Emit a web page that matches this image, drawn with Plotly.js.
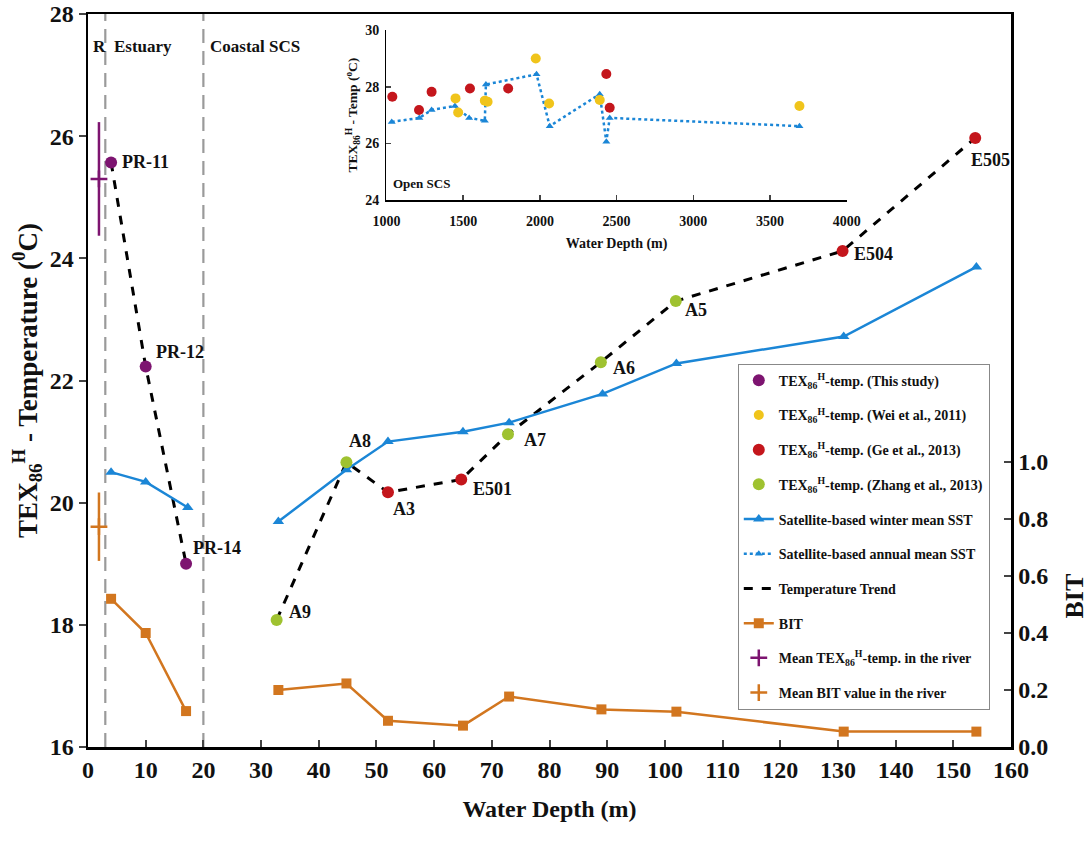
<!DOCTYPE html>
<html><head><meta charset="utf-8">
<script src="https://cdn.plot.ly/plotly-3.0.1.min.js"></script>
<style>html,body{margin:0;padding:0;background:#fff}#chart{width:1091px;height:844px}</style>
</head><body><div id="chart"></div>
<script>
// ---------- data ----------
var thisDepth = [4, 10, 17];
var thisTemp = [25.57, 22.23, 19.0];
var thisLabels = ['PR-11', 'PR-12', 'PR-14'];

var zhangDepth = [32.7, 44.8, 72.8, 88.9, 101.9];
var zhangTemp = [18.08, 20.66, 21.12, 22.3, 23.3];
var zhangLabels = ['A9', 'A8', 'A7', 'A6', 'A5'];

var geDepth = [52, 64.7, 130.8, 153.8];
var geTemp = [20.17, 20.38, 24.12, 25.97];
var geLabels = ['A3', 'E501', 'E504', 'E505'];

var winterDepth = [4, 10, 17.3, null, 33, 44.8, 52, 65, 73, 89.2, 102, 131, 154];
var winterSST = [20.5, 20.34, 19.92, null, 19.69, 20.54, 21.0, 21.16, 21.31, 21.78, 22.28, 22.72, 23.86];

var bitDepth = [4, 10, 17, null, 33, 44.8, 52, 65, 73, 89, 102, 131, 154];
var bitValue = [0.52, 0.40, 0.126, null, 0.20, 0.223, 0.092, 0.075, 0.177, 0.132, 0.124, 0.054, 0.054];

var riverDepth = [1.9];
var riverTemp = [25.3];
var riverTempErr = [0.93];
var riverBIT = [0.773];
var riverBITErr = [0.12];

// inset (open SCS)
var inGeDepth = [1038, 1212, 1294, 1544, 1793, 2433, 2455];
var inGeTemp = [27.65, 27.18, 27.82, 27.94, 27.94, 28.45, 27.26];
var inWeiDepth = [1450, 1467, 1641, 1659, 1973, 2060, 2390, 3692];
var inWeiTemp = [27.59, 27.09, 27.51, 27.47, 29.0, 27.41, 27.53, 27.32];
var annDepth = [1034, 1214, 1294, 1446, 1539, 1641, 1648, 1978, 2064, 2390, 2433, 2455, 3692];
var annSST = [26.76, 26.9, 27.18, 27.32, 26.9, 26.8, 28.08, 28.44, 26.61, 27.74, 26.06, 26.9, 26.61];

var boundaryDepths = [3, 20];
var xTicks = [0,10,20,30,40,50,60,70,80,90,100,110,120,130,140,150,160];
var yTicks = [16,18,20,22,24,26,28];
var bitTicks = [0, 0.2, 0.4, 0.6, 0.8, 1.0];
var bitTickText = ['0.0','0.2','0.4','0.6','0.8','1.0'];
var insetXTicks = [1000,1500,2000,2500,3000,3500,4000];
var insetYTicks = [24,26,28,30];

// ---------- styles ----------
var SERIF = 'Liberation Serif, Times New Roman, serif';
var C = {purple:'#7d1470', yellow:'#f0c41b', red:'#c4161c', green:'#9fc230',
         blue:'#1b86d6', orange:'#d2761f', gray:'#9a9a9a'};
var labelShift = {
  'PR-11':[9,0,'left'], 'PR-12':[8,14,'left'], 'PR-14':[5,16,'left'],
  'A9':[10,8,'left'], 'A8':[14,21,'center'], 'A7':[14,-6,'left'], 'A6':[10,-6,'left'], 'A5':[7,-9,'left'],
  'A3':[16,-17,'center'], 'E501':[10,-10,'left'], 'E504':[9,-3,'left'], 'E505':[-6,-22,'left']
};

// temperature trend: estuary points, gap, then coastal points sorted by depth
var coastal = [];
zhangDepth.forEach(function(d,i){coastal.push([d, zhangTemp[i]]);});
geDepth.forEach(function(d,i){coastal.push([d, geTemp[i]]);});
coastal.sort(function(a,b){return a[0]-b[0];});
var trendX = thisDepth.concat([null], coastal.map(function(p){return p[0];}));
var trendY = thisTemp.concat([null], coastal.map(function(p){return p[1];}));

var texName = 'TEX<sub>86</sub><sup>H</sup>-temp.';
var traces = [
  {x: trendX, y: trendY, mode:'lines', name:'Temperature Trend', legendrank:7,
   line:{color:'#000', width:3, dash:'dash'}, connectgaps:false},
  {x: winterDepth, y: winterSST, mode:'lines+markers', name:'Satellite-based winter mean SST', legendrank:5,
   line:{color:C.blue, width:2.5}, marker:{symbol:'triangle-up', size:10, color:C.blue}},
  {x: bitDepth, y: bitValue, yaxis:'y2', mode:'lines+markers', name:'BIT', legendrank:8,
   line:{color:C.orange, width:2.5}, marker:{symbol:'square', size:10, color:C.orange}},
  {x: thisDepth, y: thisTemp, mode:'markers', name: texName+' (This study)', legendrank:1,
   marker:{size:12, color:C.purple}},
  {x: zhangDepth, y: zhangTemp, mode:'markers', name: texName+' (Zhang et al., 2013)', legendrank:4,
   marker:{size:12, color:C.green}},
  {x: geDepth, y: geTemp, mode:'markers', name: texName+' (Ge et al., 2013)', legendrank:3,
   marker:{size:12, color:C.red}},
  {x: riverDepth, y: riverTemp, mode:'markers', name:'Mean '+texName+' in the river', legendrank:9,
   marker:{symbol:'cross-thin', size:12, color:C.purple, line:{color:C.purple, width:2.5}},
   error_y:{type:'data', array:riverTempErr, visible:true, width:0, thickness:2.5, color:C.purple}},
  {x: riverDepth, y: riverBIT, yaxis:'y2', mode:'markers', name:'Mean BIT value in the river', legendrank:10,
   marker:{symbol:'cross-thin', size:12, color:C.orange, line:{color:C.orange, width:2.5}},
   error_y:{type:'data', array:riverBITErr, visible:true, width:0, thickness:2.5, color:C.orange}},
  // inset
  {x: annDepth, y: annSST, xaxis:'x3', yaxis:'y3', mode:'lines+markers', name:'Satellite-based annual mean SST', legendrank:6,
   line:{color:C.blue, width:2.5, dash:'dot'}, marker:{symbol:'triangle-up', size:7, color:C.blue}},
  {x: inGeDepth, y: inGeTemp, xaxis:'x3', yaxis:'y3', mode:'markers', showlegend:false,
   marker:{size:10, color:C.red}},
  {x: inWeiDepth, y: inWeiTemp, xaxis:'x3', yaxis:'y3', mode:'markers', name: texName+' (Wei et al., 2011)', legendrank:2,
   marker:{size:10, color:C.yellow}}
];
traces.forEach(function(t,i){ t.legendgroup = 'g'+i; });

var bold = function(size){ return {family:SERIF, size:size, color:'#111', weight:'bold'}; };

var annotations = [];
function addLabels(xs, ys, labs){
  labs.forEach(function(l,i){
    var s = labelShift[l];
    annotations.push({x:xs[i], y:ys[i], xref:'x', yref:'y', text:l, showarrow:false,
      xanchor:s[2], yanchor:'middle', xshift:s[0], yshift:s[1], font:bold(18)});
  });
}
addLabels(thisDepth, thisTemp, thisLabels);
addLabels(zhangDepth, zhangTemp, zhangLabels);
addLabels(geDepth, geTemp, geLabels);
annotations.push({x:0.6, y:27.47, xref:'x', yref:'y', text:'R', showarrow:false, xanchor:'left', font:bold(17)});
annotations.push({x:4.1, y:27.47, xref:'x', yref:'y', text:'Estuary', showarrow:false, xanchor:'left', font:bold(17)});
annotations.push({x:20.8, y:27.47, xref:'x', yref:'y', text:'Coastal SCS', showarrow:false, xanchor:'left', font:bold(17)});
annotations.push({x:1.087, y:0.173, xref:'paper', yref:'paper', text:'BIT', textangle:-90, showarrow:false, font:bold(26)});
annotations.push({x:1030, y:24.6, xref:'x3', yref:'y3', text:'Open SCS', showarrow:false, xanchor:'left', font:bold(13)});

var shapes = boundaryDepths.map(function(d){
  return {type:'line', xref:'x', yref:'paper', x0:d, x1:d, y0:0, y1:1, layer:'below',
          line:{color:C.gray, width:2.2, dash:'14px,8px'}};
});

var layout = {
  width:1091, height:844,
  margin:{l:88, r:80, t:14, b:97},
  paper_bgcolor:'#fff', plot_bgcolor:'rgba(0,0,0,0)',
  showlegend:true,
  legend:{x:0.704, y:0.523, xanchor:'left', yanchor:'top', bgcolor:'#fff',
          bordercolor:'#888', borderwidth:1, font:bold(14), traceorder:'grouped', tracegroupgap:13.5},
  xaxis:{range:[0,160], tickvals:xTicks, showgrid:false, zeroline:false, showline:true, linecolor:'#000', linewidth:2.5,
         mirror:true, ticks:'inside', ticklen:7, tickwidth:2, tickfont:bold(24),
         title:{text:'Water Depth (m)', font:bold(24), standoff:18}},
  yaxis:{range:[16,28], tickvals:yTicks, showgrid:false, zeroline:false, showline:true, linecolor:'#000', linewidth:2.5,
         ticks:'outside', ticklen:7, tickwidth:2, tickfont:bold(24),
         title:{text:'TEX<sub>86</sub><sup>H</sup> - Temperature (<sup>0</sup>C)', font:bold(27), standoff:5}},
  yaxis2:{overlaying:'y', side:'right', range:[0, 733/285], tickvals:bitTicks, ticktext:bitTickText,
          showgrid:false, zeroline:false, showline:true, linecolor:'#000', linewidth:2.5,
          ticks:'inside', ticklen:7, tickwidth:2, tickfont:bold(24)},
  xaxis3:{domain:[0.3234, 0.822], anchor:'y3', range:[1000,4000], tickvals:insetXTicks, showgrid:false, zeroline:false,
          showline:true, linecolor:'#000', linewidth:1.5, ticks:'inside', ticklen:5, tickwidth:1.5, tickfont:bold(14),
          ticklabelstandoff:8, title:{text:'Water Depth (m)', font:bold(14), standoff:10}},
  yaxis3:{domain:[0.7462, 0.978], anchor:'x3', range:[24,30], tickvals:insetYTicks, showgrid:false, zeroline:false,
          showline:true, linecolor:'#000', linewidth:1.5, ticks:'inside', ticklen:5, tickwidth:1.5, tickfont:bold(14),
          ticklabelstandoff:3, title:{text:'TEX<sub>86</sub><sup>H</sup> - Temp (<sup>o</sup>C)', font:bold(13.5), standoff:4}},
  annotations:annotations, shapes:shapes
};
Plotly.newPlot('chart', traces, layout, {displayModeBar:false, staticPlot:true});
</script></body></html>
